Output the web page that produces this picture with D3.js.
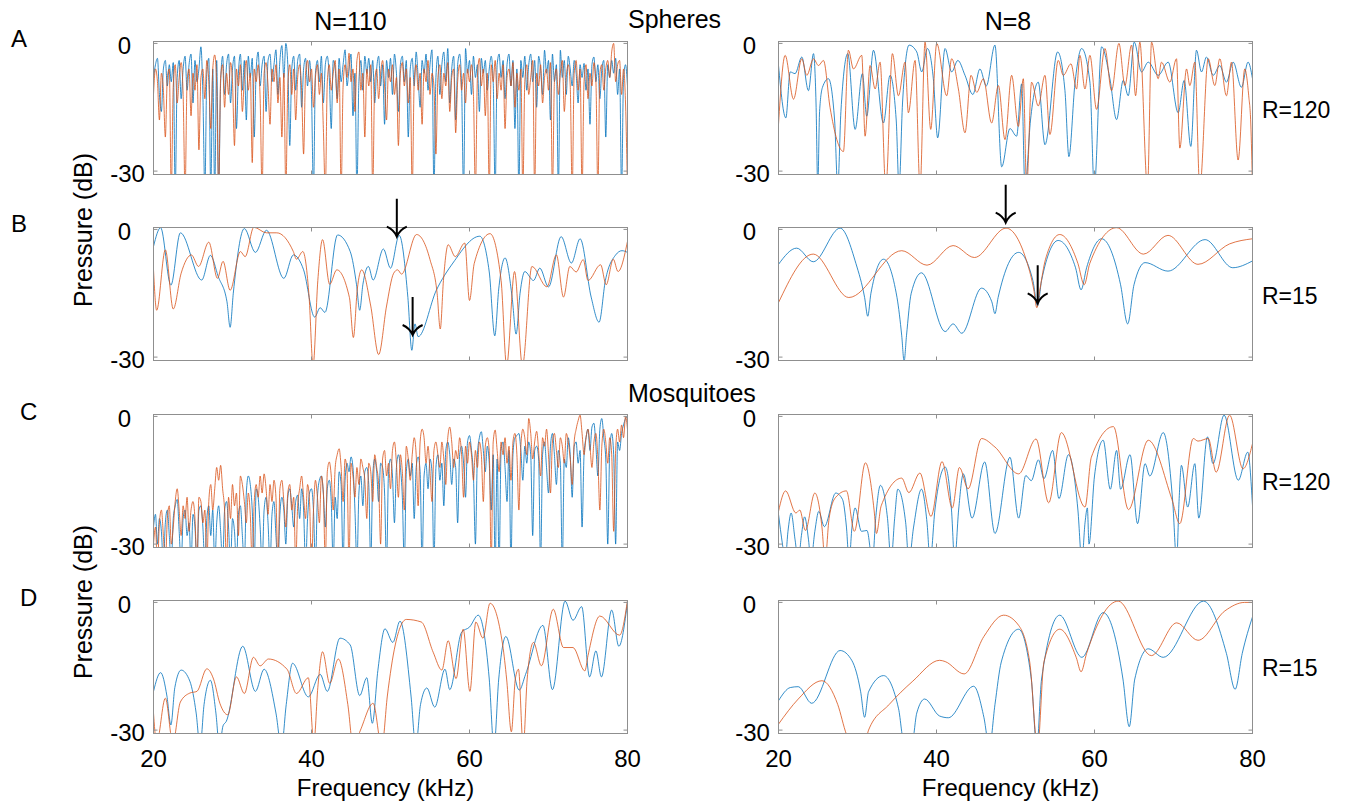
<!DOCTYPE html>
<html lang="en">
<head>
<meta charset="UTF-8">
<title>Spheres and mosquitoes spectra</title>
<script src="https://cdn.jsdelivr.net/npm/d3@7"></script>
<style>
  body { margin: 0; background: #fff; }
  svg text { font-family: "Liberation Sans", Arial, Helvetica, sans-serif; fill: #000; }
  .tick text { font-size: 24px; }
</style>
</head>
<body>
<div id="chart"></div>
<script>
// ---- data (kHz on x, dB on y) ----
// dense panels are sampled on a fixed grid: 20 kHz, step 0.25 kHz
const gridStart = 20, gridStep = 0.25;

// A, N=110, R=120
const aLeftBlue = [
  -8, -5, -3.5, -12, -16, -6, -4, -10,
  -5, -9, -4.5, -35, -8, -4, -13, -6,
  -3, -11, -5, -2.5, -14, -4, -9, -6,
  -0.8, -12, -35, -7, -3.5, -35, -6, -35,
  -4, -35, -9, -3, -12, -5, -2.5, -14,
  -6, -3, -20, -7, -2.5, -11, -4, -18,
  -3, -8, -3.5, -22, -6, -2, -10, -5,
  -3, -16, -4, -2.5, -9, -5, -1.5, -12,
  -4, -0.5, -8, 0, -5, -24, -6, -3,
  -11, -4, -2.5, -15, -6, -3.5, -10, -4,
  -12, -35, -7, -4, -9, -3, -14, -5,
  -3, -8, -20, -4, -6, -13, -3.5, -9,
  -5, -1.5, -10, -6, -2.5, -17, -7, -35,
  -9, -4, -11, -3, -7, -3.5, -9, -4,
  -14, -6, -3, -10, -5, -19, -4, -8,
  -3.5, -12, -2.5, -7, -16, -5, -3, -9,
  -4, -22, -6, -3.5, -10, -2, -8, -15,
  -4, -7, -2.5, -11, -5, -1.5, -35, -8,
  -3, -12, -5, -2, -9, -1.2, -14, -6,
  -3, -18, -5, -2.5, -10, -35, -1.2, -7,
  -4, -12, -3, -8, -5, -16, -3.5, -7,
  -4, -11, -6, -3, -9, -35, -5, -2.5,
  -8, -4, -13, -5, -2.5, -10, -4, -20,
  -6, -35, -4, -8, -3, -11, -5, -2.5,
  -9, -4, -15, -3, -6, -12, -1.6, -7,
  -4, -18, -2.5, -9, -5, -35, -1.6, -8,
  -4, -12, -3, -6, -10, -4, -7, -14,
  -5, -8, -4.7, -11, -6, -19, -5, -3.2,
  -9, -5, -13, -6, -4, -22, -5, -8,
  -4, -7, -3.5, -12, -6, -35, -8, -5,
  -10
];
const aLeftOrange = [
  -12, -6, -9, -18, -7, -11, -22, -8,
  -6, -35, -10, -5, -14, -8, -4.5, -12,
  -35, -9, -6, -17, -7, -11, -5, -25,
  -8, -6, -13, -4, -9, -20, -6, -2.7,
  -10, -35, -8, -5, -15, -7, -12, -4.5,
  -9, -24, -6, -10, -5, -16, -8, -4,
  -11, -7, -28, -6, -9, -5, -13, -35,
  -7, -4.5, -10, -19, -6, -9, -5, -14,
  -8, -22, -7, -35, -10, -5, -12, -6,
  -18, -8, -5, -11, -26, -7, -4, -9,
  -6, -15, -8, -5, -12, -7, -20, -35,
  -9, -5, -11, -7, -4, -14, -6, -35,
  -10, -5, -8, -2.3, -9, -6, -16, -4,
  -2, -11, -7, -22, -6, -10, -5, -35,
  -9, -6, -13, -7, -4, -10, -18, -6,
  -9, -5, -12, -8, -24, -7, -4.5, -10,
  -6, -14, -8, -35, -9, -5, -11, -7,
  -19, -6, -9, -4, -12, -7, -10, -26,
  -8, -5, -13, -7, -10, -4.5, -16, -8,
  -6, -21, -9, -5, -11, -7, -14, -6,
  -9, -5, -12, -35, -8, -3.5, -10, -6,
  -17, -7, -35, -5, -9, -4, -13, -7,
  -11, -5, -20, -8, -6, -10, -4.5, -15,
  -7, -11, -6, -35, -9, -5, -12, -8,
  -4, -35, -7, -10, -5, -14, -8, -6,
  -11, -4.5, -35, -9, -6, -12, -7, -4,
  -16, -8, -5, -10, -35, -7, -4, -11,
  -6, -35, -9, -5, -13, -7, -10, -4.5,
  -9, -35, -7, -5, -11, -6, -4, -8,
  -2, 0, -9, -5, -4, -12, -6, -14,
  -35
];

// A, N=8, R=120
const aRightBlue = [[20,-5.2],[20.93,-17.5],[21.48,-6.7],[22.1,-7.1],[22.95,-3.2],[23.79,-11.1],[24.43,-2.4],[24.75,-14],[24.97,-34],[25.2,-16],[25.57,-10.3],[26.32,-8.3],[27.1,-18],[27.5,-34],[27.9,-16],[28.77,-2.4],[29.7,-20.2],[30.62,-7.1],[31.17,-17.1],[32.02,-1.6],[33.28,-18.7],[34.12,-7.5],[34.9,-18],[35.26,-34],[35.7,-14],[36.53,-0.4],[37.5,-2],[38.13,-6.7],[38.85,-1.2],[39.6,-8.3],[40.15,-22.2],[41.08,-1.2],[41.92,-6.7],[42.7,-4],[43.61,-7.5],[44.6,-12],[45.5,-6],[46.3,-10],[47.4,-0.4],[48.25,-29],[49.3,-20],[50.14,-21.8],[50.78,-9.5],[51.2,-34],[51.9,-18],[52.88,-9.1],[53.73,-23.8],[55.33,-2],[56.26,-11.1],[56.76,-26.6],[57.52,-9.5],[58.37,-1.2],[59.42,-9.1],[59.97,-34],[60.9,-0.8],[61.95,-8.3],[62.79,-17.9],[63.64,-8.7],[64.27,-12.3],[65.03,0.3],[65.95,-6.7],[66.8,-4.4],[68.06,-7.5],[69.33,-4.4],[70.59,-16.3],[71.35,-8.7],[72.19,-24.2],[72.91,-1.6],[73.54,-6.7],[74.18,-3.2],[75.02,-7.5],[75.86,-5.2],[76.7,-9.1],[77.55,-4.4],[78.6,-10.3],[79.44,-4.4],[80,-8.3]];
const aRightOrange = [[20,-19],[20.84,-2.8],[21.9,-13.1],[22.95,-3.6],[23.58,-7.5],[24.43,-3.6],[25.06,-5.2],[25.69,-4],[26.53,-15.1],[28.22,-25.4],[28.85,-1.6],[29.49,-6],[30.54,-2.8],[30.96,-21.8],[31.59,-5.2],[32.23,-10.7],[32.86,-4.4],[33.58,-34],[34.42,-2.4],[35.18,-12.3],[36.02,-4.4],[36.44,-16.3],[37.29,-4],[37.92,-34],[38.55,0.3],[39.27,-20.2],[40.03,0],[41.29,-12.3],[41.92,-3.6],[42.77,-10.7],[43.61,-21],[44.37,-7.5],[45.09,-11.5],[45.93,-8.3],[46.98,-18.7],[47.83,-9.9],[48.67,-22.6],[49.51,-7.5],[50.36,-19.5],[50.99,-8.3],[51.41,-34],[52.04,-9.1],[52.88,-14.7],[53.73,-7.5],[54.36,-21.4],[55.41,-4],[56.05,-7.5],[57.02,-4.8],[57.73,-10.7],[58.15,-2.8],[58.79,-10.7],[59.42,-2.8],[60.26,-15.5],[61.32,-1.2],[62.16,-11.1],[63.09,0],[63.85,-9.9],[64.69,-0.4],[65.2,-12.3],[65.74,0.3],[66.71,-34],[67.22,0.3],[68.06,-8.3],[68.48,-4.4],[69.54,-9.1],[70.38,-3.6],[70.8,-24.6],[71.65,-6],[72.07,-9.9],[72.7,-4.4],[73.33,-34],[74.39,-3.6],[75.23,-9.9],[75.86,-3.6],[76.7,-12.3],[77.34,-4.4],[78.18,-27.4],[79.02,-6],[79.52,-12.3],[79.78,-18.7],[80,-34]];

// B, N=110, R=15
const bLeftBlue = [[20,-4],[20.9,0.4],[22.2,-13.1],[23.4,-0.8],[26.1,-11.9],[27.2,-6.1],[28.2,-11.1],[29.3,-17],[29.7,-23],[30.1,-15],[31.5,0.2],[32.9,-5.4],[34.3,-0.2],[36.5,-11.5],[37.7,-6],[39,-9.5],[40.4,-20.6],[41.1,-18.4],[41.7,-19.5],[43.3,-1.3],[44.9,-5.2],[45.7,-13],[46.1,-19],[46.5,-13],[47.2,-8.7],[47.8,-11.9],[49.1,-4.6],[50,-9.1],[51.1,-1.4],[52.2,-16],[52.7,-28.4],[53.1,-22.2],[53.5,-25.2],[55.8,-14.3],[57.9,-7.9],[61.3,-1.6],[62.5,-10],[63.2,-25],[63.7,-14],[64.5,-6.7],[65.4,-16],[65.9,-24.6],[66.4,-15],[67,-9.9],[68.1,-12],[68.9,-9.1],[70,-13.5],[71.6,-1.7],[72.9,-7.9],[74,-2.2],[75.4,-15.9],[76.4,-21.8],[77.2,-12],[78.5,-6],[79.3,-5],[80,-5.4]];
const bLeftOrange = [[20,-9.5],[20.4,-19],[21.5,-4.8],[22.5,-18.7],[23.5,-10.3],[24.8,-6],[25.7,-8.7],[27,-3],[28.1,-11.5],[28.8,-7.5],[29.7,-14.3],[31,-5.2],[31.6,-6.4],[32.7,0.5],[34.3,-0.8],[35.6,-0.8],[37.7,-5.2],[38.1,-7],[38.9,-5.2],[39.7,-16],[40.2,-32],[40.8,-12],[41.4,-2.4],[42.3,-12.9],[43.2,-9.5],[44.8,-16],[45.3,-25.4],[45.8,-14],[46.35,-9.5],[47.5,-18],[48.5,-29.4],[49.5,-18],[50.4,-10.3],[50.9,-9.5],[51.4,-10.5],[53.3,-1.2],[55,-7.1],[55.9,-15],[56.3,-23.4],[56.7,-12],[57.3,-3.6],[58.2,-6.4],[59.4,-3.2],[60,-16.7],[60.6,-8],[62.6,-1],[64,-12],[64.7,-32],[65.7,-9.9],[66.7,-32],[67.9,-8.7],[69.8,-13.5],[71,-6],[71.9,-15.9],[72.7,-8.7],[73.5,-10],[74.4,-7.1],[75,-12],[76.6,-8.3],[77.3,-13],[78.2,-7],[78.8,-9.9],[80,-2.8]];

// B, N=8, R=15
const bRightBlue = [[20,-8.2],[22.3,-4.4],[24.4,-7.6],[27.8,0.3],[29.8,-8],[30.9,-16],[31.3,-20.4],[31.7,-15],[33.3,-7],[35,-16],[35.6,-25],[35.9,-31],[36.2,-25],[36.8,-15],[38.1,-10.2],[41.1,-24],[42.1,-22.2],[43.2,-24.4],[45.7,-13.8],[47,-17],[47.4,-19.8],[47.8,-16],[50.4,-5.4],[52.2,-12],[52.8,-18],[53.3,-12],[55.4,-2.6],[57.6,-9],[58.3,-14.2],[59,-9],[60.9,-2.2],[63.3,-13],[64.2,-22.2],[65,-13],[66.4,-7.8],[69.3,-9.8],[74,-2.4],[77.5,-9],[80,-7.4]];
const bRightOrange = [[20,-17.2],[24.4,-5.8],[28.9,-16],[35.6,-5],[38.8,-8.4],[42.1,-3.8],[44.8,-6.6],[48.8,0.3],[51.5,-8],[52.3,-14],[52.7,-18.4],[53.1,-14],[53.8,-7],[55.6,-1.2],[57.9,-8],[58.7,-13],[59.4,-8],[62.8,0.4],[66.2,-5.8],[69.3,-1.4],[73.1,-8.2],[77.1,-3.4],[80,-2.2]];

// C, N=110, R=120
const cLeftBlue = [
  -26, -23, -30, -24, -27, -35, -25, -22,
  -28, -35, -24, -21, -19.5, -27, -35, -24,
  -22, -28, -25, -35, -23, -26, -35, -22,
  -21, -26, -35, -24, -21, -28, -22, -35,
  -25, -21, -27, -35, -22, -20, -26, -35,
  -24, -27, -35, -23, -21, -28, -35, -18,
  -14, -16, -22, -35, -17, -19, -26, -35,
  -22, -19, -25, -35, -23, -20, -28, -35,
  -23, -19, -22, -30, -19, -17, -21, -26,
  -20, -18.5, -24, -17, -22, -35, -24, -18,
  -17, -22, -35, -19, -15, -14, -18, -26,
  -17, -15, -20, -35, -19, -24, -13, -16,
  -35, -15, -11, -13, -9.5, -12, -22, -35,
  -18, -14, -21, -13, -12, -16, -35, -14,
  -10, -13, -20, -11, -12, -18, -35, -13,
  -10, -14, -25, -12, -9, -12, -19, -35,
  -13, -10, -14, -11, -24, -12, -9.5, -13,
  -35, -14, -11, -17, -10, -13, -35, -12,
  -9, -15, -11, -21, -8, -6, -9, -16,
  -10, -12, -25, -9, -7, -11, -19, -6,
  -4.5, -8, -14, -30, -9, -5, -3.6, -8,
  -13, -7, -11, -22, -9, -35, -10, -35,
  -8, -6, -12, -20, -8, -35, -9, -5,
  -4.5, -4, -8, -15, -7, -11, -6, -9,
  -28, -8, -7, -10, -35, -9, -6, -12,
  -18, -7, -4, -9, -16, -8, -11, -35,
  -10, -12, -5, -9, -19, -7, -6, -11,
  -8, -26, -9, -5, -3, -8, -2.5, -1.6,
  -7, -14, -3, -0.5, -5, -10, -30, -8,
  -4, -9, -30, -6, -8, -4, -2, -0.5,
  0
];
const cLeftOrange = [
  -30, -26, -35, -25, -22, -28, -35, -24,
  -21, -30, -26, -20, -17, -22, -28, -21,
  -24, -19, -27, -22, -20, -24, -35, -19,
  -20, -25, -22, -35, -20, -16, -22, -17,
  -12, -15, -11.5, -17, -22, -35, -19, -24,
  -16, -21, -18, -28, -14, -16, -20, -25,
  -18, -23, -35, -20, -16, -19, -14, -18,
  -13.5, -17, -23, -16, -20, -15, -19, -35,
  -17, -15, -20, -26, -18, -16, -22, -19,
  -35, -21, -17, -14, -19, -24, -16, -20,
  -35, -22, -15, -19, -25, -14, -18, -35,
  -13, -10.7, -14, -22, -12, -9, -7.6, -12,
  -20, -10, -13, -35, -11, -14, -19, -12,
  -16, -10, -12, -15, -24, -11, -13, -20,
  -9, -12, -16, -30, -10, -8, -14, -11,
  -17, -8, -6, -11, -19, -9, -13, -22,
  -7, -10, -15, -9, -5, -9, -21, -6,
  -3, -5, -11, -7, -13, -20, -8, -6,
  -9, -12, -6, -10, -16, -5, -2.5, -6,
  -12, -8, -10, -5, -9, -19, -7, -11,
  -6, -9, -15, -8, -12, -6, -9, -20,
  -7, -5, -8, -35, -6, -3.2, -8, -13,
  -6, -9, -5, -11, -7, -15, -6, -4,
  -9, -22, -7, -3, -5, -9, -0.5, -4,
  -10, -6, -3.5, -8, -14, -5, -7, -3,
  -9, -18, -6, -4, -8, -12, -5, -7,
  -11, -4, -6, -10, -16, -6, -3, -1,
  0.3, -4, -9, -5, -3, -7, -12, -6,
  -4, -10, -22, -7, -3, -6, -11, -5,
  -9, -27, -8, -3, -6, -2, -5, 0,
  -3
];

// C, N=8, R=120
const cRightBlue = [[20,-23],[20.5,-30],[20.84,-34],[21.2,-27],[21.6,-22.7],[22.1,-29],[22.5,-34],[22.9,-28],[23.3,-23.6],[23.8,-29],[24.1,-34],[24.6,-27],[25.1,-22.3],[25.8,-25.9],[27.25,-18],[28.1,-19.5],[28.6,-26],[28.94,-34],[29.3,-26],[29.7,-21.5],[30.5,-27],[31.2,-26.8],[31.9,-34],[32.3,-24],[32.9,-16.2],[33.8,-24],[34.25,-34],[34.7,-24],[35.1,-17.1],[36.1,-25],[36.5,-34],[37.1,-26],[38.1,-17.1],[38.8,-25],[39.2,-34],[39.8,-22],[41.1,-11.9],[41.9,-22],[42.3,-34],[42.8,-22],[43.4,-13.5],[44.5,-23.9],[46.1,-10.7],[47.4,-27.5],[49.3,-9.6],[50.4,-23.9],[51.3,-13.9],[52,-15.1],[52.9,-10.2],[53.6,-14.6],[54.7,-8],[55.5,-19.3],[56.7,-9],[57.9,-22],[58.4,-34],[58.8,-25],[59.1,-21.5],[59.3,-30],[60,-14],[61.1,-5.6],[62,-17.1],[62.8,-8],[63.3,-17.1],[64.5,-9],[65.45,-25.2],[66.4,-11.1],[67,-14],[68.7,-3.8],[69.9,-20],[70.4,-34],[70.7,-20],[71,-11.5],[71.8,-21.3],[72.7,-11.1],[73.2,-23.9],[74.3,-4.8],[75,-11.1],[76.4,0.3],[78.2,-15],[79.4,-8.4],[80,-21]];
const cRightOrange = [[20,-22.3],[20.9,-17.5],[22.2,-22.7],[22.7,-22],[23.4,-26.8],[24.6,-18],[25.5,-26],[25.9,-34],[26.4,-24],[27.2,-19.1],[28.6,-17.5],[29.6,-27],[31,-10.9],[32.1,-22],[32.4,-27.5],[33,-21],[35.6,-14.5],[36.5,-17.9],[37.9,-13.3],[39.3,-23.5],[40.7,-10.6],[42,-21.5],[42.9,-12],[44,-17],[45.7,-5.2],[47.4,-7.2],[50.4,-13.5],[52.6,-5.3],[54.2,-20.3],[55.8,-3.8],[58.8,-21.3],[59.6,-9.6],[62.4,-2.4],[64.3,-21.9],[66.8,-5.6],[69.8,-19.5],[70.8,-25.2],[72.5,-5.2],[73.1,-5.8],[74.4,-5.2],[75.4,-13.1],[77.1,0.3],[78.8,-12.3],[80,-6.4]];

// D, N=110, R=15
const dLeftBlue = [[20,-20.9],[20.9,-16.5],[21.7,-22],[22.2,-28.8],[22.7,-20],[23.5,-15.9],[24.6,-18.5],[25.4,-26],[25.9,-34],[26.4,-24],[27.2,-18.3],[27.9,-26],[28.35,-34],[28.8,-29],[29.2,-28],[31.3,-10.3],[32.9,-20.9],[34,-15.7],[35.5,-26],[36.2,-34],[36.8,-24],[37.6,-14.3],[39.6,-22.2],[41.1,-16.9],[42,-20.9],[43.6,-8.4],[44.9,-10],[46.1,-21.9],[47,-17.7],[47.7,-28.4],[48.4,-16],[49.3,-6.2],[50.3,-9.4],[51.2,-4.4],[52.6,-22],[53.2,-34],[53.8,-24],[54.6,-20.1],[55.6,-24.6],[56.9,-15.7],[57.5,-20.5],[59,-7],[60,-5.8],[61.1,-3],[62.5,-18],[63.1,-34],[63.7,-18],[64.6,-8],[66.3,-20.6],[67.1,-16.9],[69.3,-5.4],[70.5,-20.5],[72.1,0.3],[73.1,-4.2],[74.2,-1],[75.2,-17.5],[76,-11.4],[76.7,-17.5],[78,-1.8],[78.9,-10.3],[80,0]];
const dLeftOrange = [[20,-26],[20.4,-33],[21.5,-22.5],[22.45,-33],[23.4,-23.4],[24.6,-21.3],[25.5,-20.9],[26.75,-15.6],[27.6,-18],[28.4,-23.7],[29.4,-26.4],[30.5,-17.5],[31.5,-21.4],[32.65,-12.9],[33.5,-14.9],[34.55,-13.3],[36.9,-15.7],[38.1,-21.4],[39.6,-17.7],[40.3,-33],[40.8,-20],[41.4,-11.6],[42.3,-19],[43.4,-13.3],[44.6,-24],[45.3,-34],[46.2,-30],[47.8,-23.7],[48.9,-34],[49.6,-22],[50.6,-10],[52,-4],[53.9,-4.6],[55.4,-11.7],[56.5,-15.9],[57.3,-9],[58.3,-17.9],[59.2,-6.3],[60.05,-20.9],[60.8,-4.6],[61.7,-8.4],[62.6,-0.2],[64.2,-10],[64.7,-18],[65.3,-30.4],[65.8,-18],[66.2,-15.7],[66.8,-34],[67.3,-18],[68.1,-9.4],[69.1,-14.9],[70.6,-1.6],[71.9,-10.6],[73.1,-10.6],[74.6,-16.1],[75,-12.5],[76.5,-3.2],[79,-7.7],[80,0.5]];

// D, N=8, R=15
const dRightBlue = [[20,-23.1],[21.5,-20],[22.5,-19.8],[24.2,-23.7],[27.8,-11.3],[29.3,-13.7],[30.4,-21],[30.9,-27],[31.4,-21],[33.3,-17.2],[35.2,-25],[35.9,-33],[36.9,-33],[37.5,-26],[38.5,-22.7],[40.4,-26.7],[41.5,-27.1],[44.7,-19.7],[46,-27],[46.7,-34],[47.4,-24],[48.2,-14],[50.4,-6.3],[52,-18],[52.7,-34],[53.3,-18],[55.6,-3],[58.4,-12.9],[61.1,-2.4],[63.6,-18],[64.4,-29.2],[65.1,-18],[66.8,-10.9],[68.7,-12.9],[73.8,0.3],[76.7,-12],[77.8,-20.4],[78.7,-12],[80,-3.4]];
const dRightOrange = [[20,-28.6],[22.5,-22.7],[25.5,-18.4],[27.5,-24],[28.6,-31],[29.4,-34],[30.8,-34],[31.4,-30],[34,-24],[37,-18.5],[40.4,-13.6],[41.1,-13.9],[43.5,-16.8],[46,-8],[48.5,-3],[50.4,-5.4],[51.8,-14],[52.8,-34],[53.6,-14],[55.6,-6.3],[57.7,-13],[58.3,-16.3],[59,-12],[63,0.3],[67.2,-12.5],[70.4,-4.8],[73.1,-8.9],[76.5,-2],[79,0],[80,0]];

const xTicks = [20, 40, 60, 80];
const yTicks = [-30, 0];
const rowLetters = ["A", "B", "C", "D"];
const colTitles = ["N=110", "N=8"];
const rangeLabels = ["R=120", "R=15", "R=120", "R=15"];
// arrows in row B: column, frequency (kHz), tip level (dB)
const arrowCols = [0, 0, 1, 1];
const arrowFreqs = [50.8, 52.8, 48.76, 52.81];
const arrowTips = [-1.7, -24.8, 1.58, -17.36];

// ---- layout ----
const svg = d3.select("#chart").append("svg")
  .attr("width", 1349)
  .attr("height", 803);

const colX = [153.5, 778.5], boxW = 474;
const rowY = [41.5, 227.5, 414.5, 600.5], boxH = 133;
const axisGray = "#8f8f8f";
const blue = "#0072BD", orange = "#D95319";

const x = d3.scaleLinear().domain([20, 80]).range([0, boxW]);
const y = d3.scaleLinear().domain([-30.8, 0.45]).range([boxH, 0]);

const gridPairs = vals => vals.map((v, i) => [gridStart + i * gridStep, v]);

const panels = [
  { row: 0, col: 0, blue: gridPairs(aLeftBlue), orange: gridPairs(aLeftOrange) },
  { row: 0, col: 1, blue: aRightBlue, orange: aRightOrange },
  { row: 1, col: 0, blue: bLeftBlue, orange: bLeftOrange },
  { row: 1, col: 1, blue: bRightBlue, orange: bRightOrange },
  { row: 2, col: 0, blue: gridPairs(cLeftBlue), orange: gridPairs(cLeftOrange) },
  { row: 2, col: 1, blue: cRightBlue, orange: cRightOrange },
  { row: 3, col: 0, blue: dLeftBlue, orange: dLeftOrange },
  { row: 3, col: 1, blue: dRightBlue, orange: dRightOrange }
];

const line = d3.line()
  .x(d => x(d[0]))
  .y(d => y(d[1]))
  .curve(d3.curveMonotoneX);

panels.forEach((p, k) => {
  const g = svg.append("g")
    .attr("transform", `translate(${colX[p.col]},${rowY[p.row]})`);

  g.append("clipPath").attr("id", "clip" + k)
    .append("rect").attr("width", boxW).attr("height", boxH);

  const plot = g.append("g").attr("clip-path", `url(#clip${k})`);
  plot.append("path").datum(p.blue)
    .attr("d", line).attr("fill", "none")
    .attr("stroke", blue).attr("stroke-width", 1).attr("stroke-opacity", 0.8);
  plot.append("path").datum(p.orange)
    .attr("d", line).attr("fill", "none")
    .attr("stroke", orange).attr("stroke-width", 1).attr("stroke-opacity", 0.8);

  // inward ticks on all four sides, like a boxed matlab axes
  const bottom = g.append("g").attr("transform", `translate(0,${boxH})`)
    .attr("color", axisGray)
    .call(d3.axisBottom(x).tickValues(xTicks).tickSize(-4).tickPadding(16.5).offset(0)
      .tickFormat(p.row === 3 ? (d => String(d)) : ""));
  bottom.select(".domain").remove();

  g.append("g").attr("color", axisGray)
    .call(d3.axisTop(x).tickValues(xTicks).tickSize(-4).tickFormat("").offset(0))
    .select(".domain").remove();

  const left = g.append("g").attr("color", axisGray)
    .call(d3.axisLeft(y).tickValues(yTicks).tickSize(-4).offset(0).tickFormat(d => String(d)));
  left.select(".domain").remove();
  left.selectAll("text")
    .attr("text-anchor", "middle")
    .attr("x", d => d === 0 ? -29 : -26)
    .attr("dy", null)
    .attr("y", 11);

  g.append("g").attr("transform", `translate(${boxW},0)`).attr("color", axisGray)
    .call(d3.axisRight(y).tickValues(yTicks).tickSize(-4).tickFormat("").offset(0))
    .select(".domain").remove();

  g.append("rect")
    .attr("width", boxW).attr("height", boxH)
    .attr("fill", "none").attr("stroke", axisGray).attr("stroke-width", 1);
});

// ---- arrows in row B ----
arrowFreqs.forEach((f, i) => {
  const ax = colX[arrowCols[i]] + x(f);
  const tip = rowY[1] + y(arrowTips[i]);
  svg.append("path")
    .attr("d", `M${ax},${tip - 38}V${tip}` +
      `M${ax - 10},${tip - 10}Q${ax - 3},${tip - 7} ${ax},${tip}` +
      `Q${ax + 3},${tip - 7} ${ax + 10},${tip - 10}`)
    .attr("fill", "none").attr("stroke", "#000").attr("stroke-width", 2);
});

// ---- texts ----
svg.selectAll(".colTitle").data(colTitles).join("text")
  .attr("class", "colTitle")
  .attr("x", (d, i) => [350.5, 1008][i])
  .attr("y", 30)
  .attr("text-anchor", "middle")
  .attr("font-size", 25)
  .text(d => d);

svg.append("text").attr("x", 628).attr("y", 28).attr("font-size", 25).text("Spheres");
svg.append("text").attr("x", 628).attr("y", 402).attr("font-size", 25).text("Mosquitoes");

svg.selectAll(".rowLetter").data(rowLetters).join("text")
  .attr("class", "rowLetter")
  .attr("x", (d, i) => i < 2 ? 11 : 20)
  .attr("y", (d, i) => [47, 232, 420, 606][i])
  .attr("font-size", 24)
  .text(d => d);

svg.selectAll(".rangeLabel").data(rangeLabels).join("text")
  .attr("class", "rangeLabel")
  .attr("x", 1262)
  .attr("y", (d, i) => [118, 304, 490, 676][i])
  .attr("font-size", 23)
  .text(d => d);

[230, 602].forEach(cy => {
  svg.append("text")
    .attr("transform", `translate(91.5,${cy}) rotate(-90)`)
    .attr("text-anchor", "middle")
    .attr("font-size", 25)
    .text("Pressure (dB)");
});

colX.forEach(cx => {
  svg.append("text")
    .attr("x", cx + boxW / 2 - 5)
    .attr("y", 796)
    .attr("text-anchor", "middle")
    .attr("font-size", 24)
    .text("Frequency (kHz)");
});
</script>
</body>
</html>
